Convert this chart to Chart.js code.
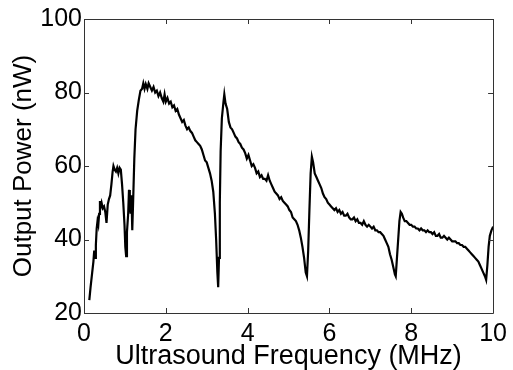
<!DOCTYPE html>
<html>
<head>
<meta charset="utf-8">
<script src="https://cdn.jsdelivr.net/npm/chart.js@4/dist/chart.umd.min.js"></script>
<style>
  html, body { margin: 0; padding: 0; background: #fff; }
  #wrap { width: 513px; height: 370px; }
</style>
</head>
<body>
<div id="wrap"><canvas id="c" width="513" height="370"></canvas></div>
<script>
const frequencyMHz = [
  0.13,0.16,0.20,0.23,0.25,0.27,0.29,0.31,0.33,0.35,0.37,0.39,0.41,0.43,0.46,0.49,0.52,0.55,0.58,0.61,
  0.64,0.67,0.70,0.72,0.75,0.78,0.81,0.84,0.87,0.90,0.93,0.96,0.99,1.01,1.03,1.05,1.08,1.10,1.12,1.14,
  1.16,1.18,1.20,1.23,1.26,1.30,1.34,1.38,1.42,1.45,1.48,1.51,1.55,1.58,1.62,1.66,1.70,1.74,1.78,1.82,
  1.86,1.90,1.94,1.97,2.00,2.04,2.08,2.12,2.16,2.20,2.24,2.28,2.32,2.36,2.40,2.44,2.48,2.52,2.56,2.60,
  2.64,2.68,2.72,2.76,2.80,2.84,2.88,2.92,2.96,3.00,3.04,3.08,3.12,3.16,3.20,3.23,3.26,3.28,3.30,3.32,
  3.34,3.37,3.41,3.43,3.46,3.50,3.54,3.58,3.62,3.66,3.70,3.74,3.78,3.82,3.86,3.90,3.94,3.98,4.02,4.06,
  4.10,4.14,4.18,4.22,4.26,4.30,4.34,4.38,4.42,4.46,4.50,4.54,4.58,4.62,4.66,4.70,4.74,4.78,4.82,4.86,
  4.90,4.94,4.98,5.02,5.06,5.10,5.14,5.18,5.22,5.26,5.30,5.34,5.38,5.42,5.45,5.48,5.51,5.54,5.57,5.60,
  5.64,5.68,5.72,5.76,5.80,5.84,5.88,5.92,5.96,6.00,6.04,6.08,6.12,6.16,6.20,6.24,6.28,6.32,6.36,6.40,
  6.44,6.48,6.52,6.56,6.60,6.64,6.68,6.72,6.76,6.80,6.84,6.88,6.92,6.96,7.00,7.04,7.08,7.12,7.16,7.20,
  7.24,7.28,7.32,7.36,7.40,7.44,7.48,7.52,7.56,7.60,7.62,7.65,7.68,7.71,7.74,7.77,7.80,7.84,7.88,7.92,
  7.96,8.00,8.04,8.08,8.12,8.16,8.20,8.24,8.28,8.32,8.36,8.40,8.44,8.48,8.52,8.56,8.60,8.64,8.68,8.72,
  8.76,8.80,8.84,8.88,8.92,8.96,9.00,9.04,9.08,9.12,9.16,9.20,9.24,9.28,9.32,9.36,9.40,9.44,9.48,9.52,
  9.56,9.60,9.64,9.68,9.72,9.76,9.80,9.83,9.86,9.89,9.92,9.96,10.0
];
const outputPowerNW = [
  23.5,27,31,34,37,35,38.5,43,45,44,47,50.5,49,50,48.5,49,47.5,44.5,49.5,51,
  52,55,58.5,60,59,58.5,59.5,58,59.5,59,55,50,44,38,35.5,42,47,53.5,50,47,
  52,42.5,50,62,70,75,78,80.5,81,82.5,81,82.3,81,82.5,81.5,80.5,81.5,80,80.5,79,
  80,78.5,77.5,79.5,77.5,78.5,77,77.5,76,76.5,75,75.5,74,73,72,72.5,71,70,70.5,69.5,
  69,68,67,66.5,66,65.5,64.5,63,61.5,61,59.5,58,56,53,47,40,31,27,35,50,
  64,73,77.5,79.5,77,75.5,72,70.5,70,69,68,67.5,66.5,66,65,64.5,63.5,62,63,61.5,
  60,60.5,59.5,58,58.5,57,57.5,56.5,56.5,56,57.5,56,55,54,53,52.5,52,51,51.5,50.5,
  50,49.5,49,48,47.5,46,45.5,45,44,42.5,40.5,38,35,31,30,37,48,58,62.5,61,
  58,57,56,55,54,52.5,51.5,51,50,49.5,49,48.5,48,48.5,47.5,48,47,47.5,46.5,46.5,
  47,46,45.5,45.5,46,45,45.5,44.5,44.5,44,45,44,43.5,44,43.5,43,43.5,42.5,42.5,42,
  42,41.5,41,40,39,38,36,34.5,32.5,30.5,30,35,40,45,47.5,47,46,45,45,44.5,
  44,44,43.5,43.5,43,43,42.5,43,42.5,42.5,42,42.5,42,42,41.5,42,41,41,41.5,40.5,
  40.5,41,40.5,40,40.5,40,39.5,39.5,39.5,39,39,38.5,38.5,38,38,37.5,37,36.5,36,35.5,
  35,34.5,34,33,32,31,30,29,33,38,41,42.5,43.5
];
const xTicks = [0, 2, 4, 6, 8, 10];
const yTicks = [20, 40, 60, 80, 100];
const xTitle = 'Ultrasound Frequency (MHz)';
const yTitle = 'Output Power (nW)';

const FONT = '"Liberation Sans", Arial, Helvetica, sans-serif';

const points = frequencyMHz.map((f, i) => ({ x: f, y: outputPowerNW[i] }));

const frameTicks = {
  id: 'frameTicks',
  afterDatasetsDraw(chart) {
    const { ctx, chartArea: a, scales } = chart;
    const xs = scales.x, ys = scales.y;
    const L = 5;
    ctx.save();
    ctx.strokeStyle = '#333';
    ctx.lineWidth = 1;
    ctx.beginPath();
    ctx.rect(Math.round(a.left) + 0.5, Math.round(a.top) + 0.5,
             Math.round(a.right - a.left), Math.round(a.bottom - a.top));
    ctx.stroke();
    ctx.beginPath();
    xTicks.forEach(v => {
      const px = Math.round(xs.getPixelForValue(v)) + 0.5;
      ctx.moveTo(px, a.bottom); ctx.lineTo(px, a.bottom - L);
      ctx.moveTo(px, a.top); ctx.lineTo(px, a.top + L);
    });
    yTicks.forEach(v => {
      const py = Math.round(ys.getPixelForValue(v)) + 0.5;
      ctx.moveTo(a.left, py); ctx.lineTo(a.left + L, py);
      ctx.moveTo(a.right, py); ctx.lineTo(a.right - L, py);
    });
    ctx.stroke();
    ctx.restore();
  }
};

new Chart(document.getElementById('c'), {
  type: 'line',
  data: {
    datasets: [{
      data: points,
      borderColor: '#000',
      borderWidth: 2.2,
      pointRadius: 0,
      tension: 0,
      fill: false
    }]
  },
  options: {
    responsive: false,
    animation: false,
    devicePixelRatio: 1,
    layout: { padding: { top: 19, right: 18, left: 0, bottom: 0 } },
    plugins: { legend: { display: false }, tooltip: { enabled: false } },
    scales: {
      x: {
        type: 'linear',
        min: 0, max: 10,
        afterBuildTicks: s => { s.ticks = xTicks.map(v => ({ value: v })); },
        afterFit: s => { s.height = 57; },
        grid: { display: false, drawTicks: false },
        border: { display: false },
        ticks: { color: '#000', font: { family: FONT, size: 25 }, padding: 6, maxRotation: 0, autoSkip: false },
        title: { display: true, text: xTitle, color: '#000', font: { family: FONT, size: 27, lineHeight: 1 }, padding: 0 }
      },
      y: {
        type: 'linear',
        min: 20, max: 100,
        afterBuildTicks: s => { s.ticks = yTicks.map(v => ({ value: v })); },
        afterFit: s => { s.width = 84; },
        grid: { display: false, drawTicks: false },
        border: { display: false },
        ticks: { color: '#000', font: { family: FONT, size: 25 }, padding: 2, autoSkip: false },
        title: { display: true, text: yTitle, color: '#000', font: { family: FONT, size: 26, lineHeight: 1 }, padding: { top: 11, bottom: 0 } }
      }
    }
  },
  plugins: [frameTicks]
});
</script>
</body>
</html>
